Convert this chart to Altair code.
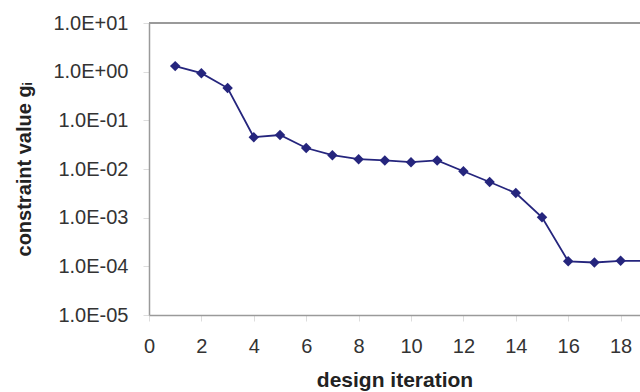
import altair as alt
import pandas as pd

iterations = [1, 2, 3, 4, 5, 6, 7, 8, 9, 10, 11, 12, 13, 14, 15, 16, 17, 18, 19]
constraint = [1.3, 0.93, 0.46, 0.045, 0.050, 0.027, 0.0192, 0.0159, 0.015, 0.0138,
              0.015, 0.009, 0.0054, 0.0032, 0.00102, 0.000127, 0.00012, 0.00013, 0.00013]
y_ticks = [1e1, 1e0, 1e-1, 1e-2, 1e-3, 1e-4, 1e-5]
x_ticks = [0, 2, 4, 6, 8, 10, 12, 14, 16, 18]

df = pd.DataFrame({"iteration": iterations, "g": constraint})

W, H = 491, 292
navy = "#25257d"
axis_col = "#9a9a9a"
font = "Liberation Sans"

label_expr = ("'1.0E' + (datum.value >= 1 ? '+' : '-') + "
              "(abs(round(log(datum.value)/LN10)) < 10 ? '0' : '') + "
              "abs(round(log(datum.value)/LN10))")

x = alt.X("iteration:Q",
          scale=alt.Scale(domain=[0, 18.74], nice=False, zero=False),
          axis=alt.Axis(title="design iteration", values=x_ticks, grid=False,
                        domainColor=axis_col, domainWidth=1.5, tickColor="#dddddd",
                        tickSize=6, labelPadding=15, labelFontSize=20,
                        labelColor="#333333", labelFont=font,
                        titleFont=font, titleFontSize=21, titleFontWeight="bold",
                        titleColor="#222222", titlePadding=13, labelFlush=False))
y = alt.Y("g:Q",
          scale=alt.Scale(type="log", domain=[1e-5, 1e1], nice=False),
          axis=alt.Axis(title="constraint value gᵢ", values=y_ticks, grid=False,
                        labelExpr=label_expr,
                        domainColor=axis_col, domainWidth=1.5, tickColor="#dddddd",
                        tickSize=6, labelPadding=15, labelFontSize=20,
                        labelColor="#333333", labelFont=font,
                        titleFont=font, titleFontSize=20, titleFontWeight="bold",
                        titleColor="#222222", titlePadding=18))

line = alt.Chart(df).mark_line(color=navy, strokeWidth=1.8, clip=True).encode(x=x, y=y)
pts = alt.Chart(df).mark_point(shape="diamond", filled=True, color=navy, size=110,
                               opacity=1, clip=True).encode(x=x, y=y)
top = alt.Chart(df).mark_rule(color=axis_col, strokeWidth=1.5).encode(
    x=alt.value(0), x2=alt.value(W), y=alt.value(0))

chart = alt.layer(line, pts, top).properties(
    width=W, height=H,
    autosize=alt.AutoSizeParams(type="none"),
    padding={"left": 149, "top": 23, "right": 0, "bottom": 77},
).configure_view(stroke=None).configure(background="white")

chart.save("out.html", embed_options={"renderer": "svg", "actions": False})
